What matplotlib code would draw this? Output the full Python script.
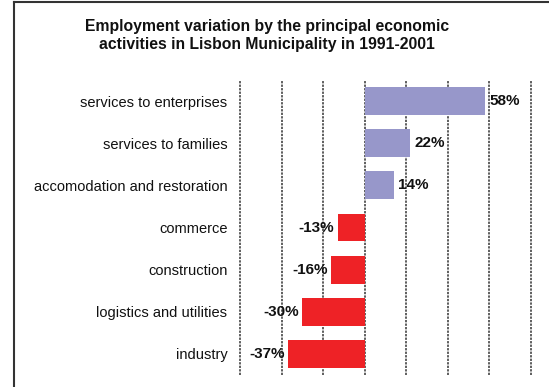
import numpy as np
import matplotlib.pyplot as plt
from matplotlib.lines import Line2D

# ------------
# Chart data
# ------------
categories = ["services to enterprises", "services to families",
              "accomodation and restoration", "commerce", "construction",
              "logistics and utilities", "industry"]
values = [58, 22, 14, -13, -16, -30, -37]

title = "Employment variation by the principal economic\nactivities in Lisbon Municipality in 1991-2001"

plt.rcParams['font.family'] = ['Liberation Sans', 'DejaVu Sans']

W, H = 549, 387
fig = plt.figure(figsize=(W / 100, H / 100), dpi=100)
ax = fig.add_axes([240 / W, 1 - 375 / H, (531 - 240) / W, (375 - 80) / H])

y = np.arange(len(categories))
colors = ['#9797CA' if v > 0 else '#EE2226' for v in values]
ax.barh(y, values, height=0.66, color=colors, zorder=3)

ax.set_xlim(-60, 80)
ax.set_ylim(len(categories) - 0.5, -0.5)
ax.set_xticks(np.arange(-60, 81, 20))
ax.set_xticklabels([])
ax.tick_params(axis='x', length=0)
ax.set_yticks(y)
ax.set_yticklabels(categories, fontsize=10.5, color='#111111')
ax.tick_params(axis='y', length=0, pad=9)
ax.grid(True, axis='x', color='#333333', linestyle=(0, (1.5, 0.8)), linewidth=1.1, zorder=1)
for gl in ax.xaxis.get_gridlines():
    gl.set_clip_on(False)
for s in ax.spines.values():
    s.set_visible(False)

# value labels
for yi, v in zip(y, values):
    if v > 0:
        ax.text(v + 1.8, yi, f"{v}%", ha='left', va='center',
                fontsize=11, fontweight='bold', color='#111111', zorder=4)
    else:
        ax.text(v - 1.6, yi, f"{v}%", ha='right', va='center',
                fontsize=11, fontweight='bold', color='#111111', zorder=4)

fig.text(267 / W, 1 - 35.5 / H, title, ha='center', va='center',
         fontsize=11.3, fontweight='bold', color='#111111', linespacing=1.2)

# chart frame (top and left edges visible in the crop)
fig.add_artist(Line2D([13.5 / W, 13.5 / W], [0, 1 - 1.5 / H], transform=fig.transFigure,
                      color='#333333', linewidth=1.5))
fig.add_artist(Line2D([13.5 / W, 1], [1 - 1.5 / H, 1 - 1.5 / H], transform=fig.transFigure,
                      color='#333333', linewidth=1.5))

fig.savefig('out.png', dpi=100)
